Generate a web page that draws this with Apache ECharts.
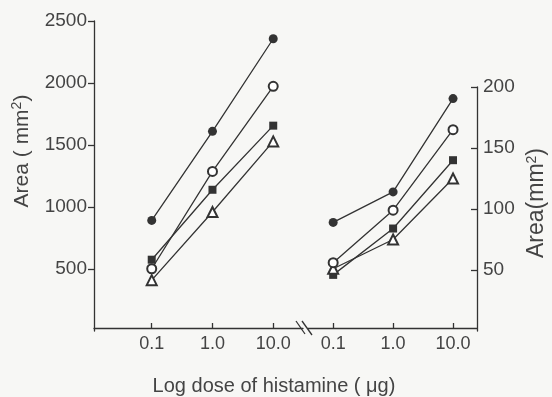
<!DOCTYPE html>
<html>
<head>
<meta charset="utf-8">
<script src="https://cdn.jsdelivr.net/npm/echarts@6/dist/echarts.min.js"></script>
<style>html,body{margin:0;padding:0;background:#f7f7f5}#c{width:552px;height:397px}</style>
</head>
<body>
<div id="c"></div>
<script>
// ---- data ----
const doses = ['0.1', '1.0', '10.0'];
const leftFilledCircle  = [892, 1610, 2357];
const leftOpenCircle    = [502, 1287, 1973];
const leftFilledSquare  = [575, 1139, 1656];
const leftOpenTriangle  = [410, 960, 1529];
const rightFilledCircle = [89, 114, 190.5];
const rightOpenCircle   = [56, 99, 165];
const rightFilledSquare = [46, 84, 140];
const rightOpenTriangle = [51, 75, 125];
const leftTicks  = [500, 1000, 1500, 2000, 2500];
const rightTicks = [50, 100, 150, 200];
const xTitle = 'Log dose of histamine ( \u03bcg)';
const leftTitle = 'Area ( mm{sup|2})';
const rightTitle = 'Area(mm{sup|2})';

// ---- build ----
const xs = doses.map(d => Math.log10(parseFloat(d)));
const pts = arr => xs.map((x, i) => [x, arr[i]]);
const doseLabel = v => { const i = xs.findIndex(x => Math.abs(x - v) < 1e-6); return i >= 0 ? doses[i] : ''; };

const INK = '#333';
const TXT = '#444';
const BG = '#f7f7f5';
const FONT = '"Liberation Sans", Arial, sans-serif';
const lineStyle = { color: INK, width: 1.3 };

function xAxis(grid, min, max) {
  return {
    gridIndex: grid, type: 'value', min: min, max: max, offset: -3,
    axisLine: { show: true, onZero: false, lineStyle: lineStyle },
    axisTick: { show: true, inside: true, length: 5, customValues: xs, lineStyle: lineStyle },
    axisLabel: { customValues: xs, formatter: doseLabel, fontSize: 18, color: TXT, fontFamily: FONT, margin: 7 },
    splitLine: { show: false }
  };
}

function series(name, grid, data, symbol, size) {
  const filled = symbol.indexOf('empty') !== 0;
  return {
    name: name, type: 'line', xAxisIndex: grid, yAxisIndex: grid,
    data: pts(data), symbol: symbol, symbolSize: size, showAllSymbol: true,
    lineStyle: { color: INK, width: 1.3 },
    itemStyle: filled ? { color: INK, borderWidth: 0 } : { color: INK, borderColor: INK, borderWidth: 1.1 },
    emphasis: { disabled: true }, animation: false
  };
}

function vTitle(text, x, y, size) {
  return {
    type: 'text', x: x, y: y, rotation: Math.PI / 2,
    style: {
      text: text, fill: TXT, fontSize: size, fontFamily: FONT, lineHeight: 24,
      align: 'center', verticalAlign: 'middle',
      rich: { sup: { fontSize: 14, fill: TXT, fontFamily: FONT, verticalAlign: 'top', lineHeight: 24 } }
    }
  };
}

const chart = echarts.init(document.getElementById('c'));
chart.setOption({
  backgroundColor: BG,
  animation: false,
  grid: [
    { left: 94, top: 21, right: 249, bottom: 66 },
    { left: 308, top: 87, right: 75, bottom: 66 }
  ],
  xAxis: [xAxis(0, -1.95, 1.49), xAxis(1, -1.42, 1.4)],
  yAxis: [
    {
      gridIndex: 0, type: 'value', min: 0, max: 2500, interval: 500, position: 'left',
      axisLine: { show: true, onZero: false, lineStyle: lineStyle },
      axisTick: { show: true, length: 6, customValues: leftTicks, lineStyle: lineStyle },
      axisLabel: { customValues: leftTicks, formatter: v => String(v), fontSize: 19, color: TXT, fontFamily: FONT, margin: 7 },
      splitLine: { show: false }
    },
    {
      gridIndex: 1, type: 'value', min: 0, max: 200, interval: 50, position: 'right',
      axisLine: { show: true, onZero: false, lineStyle: lineStyle },
      axisTick: { show: true, inside: true, length: 6, customValues: rightTicks, lineStyle: lineStyle },
      axisLabel: { customValues: rightTicks, formatter: v => String(v), fontSize: 19, color: TXT, fontFamily: FONT, margin: 6 },
      splitLine: { show: false }
    }
  ],
  series: [
    series('L square', 0, leftFilledSquare, 'rect', 8),
    series('L triangle', 0, leftOpenTriangle, 'emptyTriangle', 10),
    series('L open circle', 0, leftOpenCircle, 'emptyCircle', 9),
    series('L filled circle', 0, leftFilledCircle, 'circle', 9),
    series('R square', 1, rightFilledSquare, 'rect', 8),
    series('R triangle', 1, rightOpenTriangle, 'emptyTriangle', 10),
    series('R open circle', 1, rightOpenCircle, 'emptyCircle', 9),
    series('R filled circle', 1, rightFilledCircle, 'circle', 9)
  ],
  graphic: [
    { type: 'line', shape: { x1: 296, y1: 321, x2: 305, y2: 334 }, style: { stroke: INK, lineWidth: 1.3 } },
    { type: 'line', shape: { x1: 302, y1: 321, x2: 312, y2: 335 }, style: { stroke: INK, lineWidth: 1.3 } },
    { type: 'text', x: 274, y: 386, style: { text: xTitle, fill: TXT, fontSize: 20, fontFamily: FONT, align: 'center', verticalAlign: 'middle' } },
    vTitle(leftTitle, 22, 151, 21),
    vTitle(rightTitle, 537, 203, 23)
  ]
});
</script>
</body>
</html>
